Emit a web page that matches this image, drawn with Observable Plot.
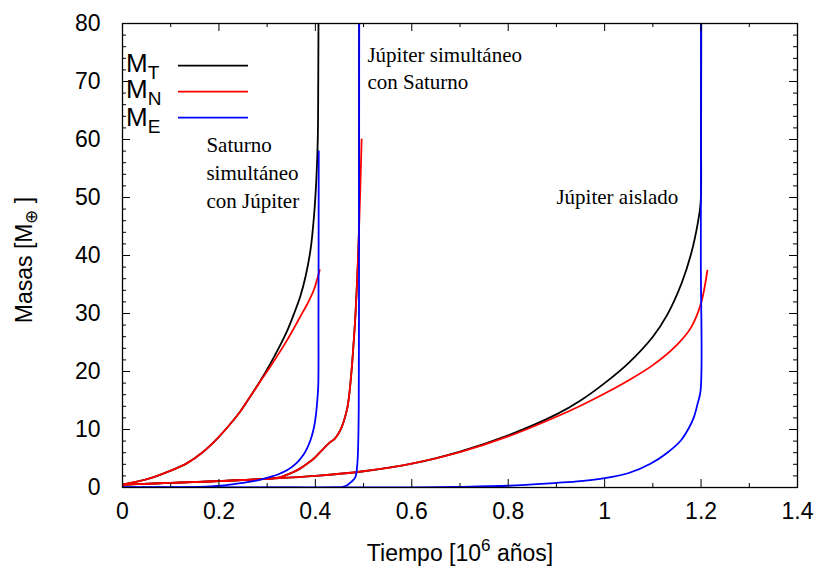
<!DOCTYPE html>
<html><head><meta charset="utf-8">
<script src="https://cdn.jsdelivr.net/npm/d3@7"></script>
<script src="https://cdn.jsdelivr.net/npm/@observablehq/plot@0.6"></script>
<style>body{margin:0;background:#fff} #wrap{width:822px;height:567px}</style>
</head><body><div id="wrap"></div><script>
// Axis ticks
const xTicks = [0, 0.2, 0.4, 0.6, 0.8, 1, 1.2, 1.4];
const xTickLabels = ["0", "0.2", "0.4", "0.6", "0.8", "1", "1.2", "1.4"];
const xMinor = [0.1, 0.3, 0.5, 0.7, 0.9, 1.1, 1.3];
const yTicks = [0, 10, 20, 30, 40, 50, 60, 70, 80];
const yMinor = [2,4,6,8,12,14,16,18,22,24,26,28,32,34,36,38,42,44,46,48,52,54,56,58,62,64,66,68,72,74,76,78];

// Saturno simultáneo con Júpiter
const satT_t = [0, 0.03, 0.065, 0.1, 0.134, 0.165, 0.196, 0.22, 0.245, 0.265, 0.286, 0.307, 0.325, 0.342, 0.355, 0.369, 0.38, 0.39, 0.397, 0.402, 0.405, 0.406, 0.407];
const satT_m = [0.5, 1.0, 1.8, 2.9, 4.2, 6.0, 8.4, 10.6, 13.2, 15.7, 18.4, 21.4, 24.2, 27.1, 29.8, 33.0, 36.5, 41, 46.6, 53, 60, 70, 95];
const satN_t = [0, 0.03, 0.065, 0.1, 0.134, 0.165, 0.196, 0.22, 0.245, 0.265, 0.286, 0.307, 0.328, 0.342, 0.355, 0.369, 0.383, 0.397, 0.409];
const satN_m = [0.5, 1.0, 1.8, 2.9, 4.2, 6.0, 8.4, 10.6, 13.2, 15.7, 18.3, 20.9, 23.6, 25.5, 27.4, 29.5, 31.6, 34.1, 37.5];
const satE_t = [0, 0.1, 0.16, 0.203, 0.231, 0.25, 0.272, 0.286, 0.305, 0.321, 0.342, 0.362, 0.375, 0.383, 0.39, 0.397, 0.401, 0.404, 0.406, 0.4065, 0.407];
const satE_m = [0, 0.02, 0.1, 0.3, 0.6, 0.8, 1.1, 1.35, 1.8, 2.2, 3.0, 4.3, 5.6, 6.8, 8.2, 10.3, 12.4, 15, 17.5, 30, 58];

// Júpiter simultáneo con Saturno
const jsT_t = [0, 0.1, 0.2, 0.27, 0.3, 0.328, 0.35, 0.369, 0.383, 0.397, 0.411, 0.418, 0.432, 0.44, 0.448, 0.455, 0.461, 0.466, 0.47, 0.473, 0.476, 0.479, 0.483, 0.487, 0.49, 0.4905, 0.491];
const jsT_m = [0.5, 0.8, 1.1, 1.35, 1.5, 1.8, 2.5, 3.3, 4.1, 5.0, 6.2, 6.8, 7.9, 8.4, 9.3, 10.5, 12.0, 13.6, 15.8, 18.2, 21.0, 24.5, 29.5, 36.5, 43, 60, 95];
const jsN_t = [0, 0.1, 0.2, 0.27, 0.3, 0.328, 0.35, 0.369, 0.383, 0.397, 0.411, 0.418, 0.432, 0.44, 0.448, 0.455, 0.461, 0.466, 0.47, 0.473, 0.476, 0.479, 0.483, 0.487, 0.49, 0.493, 0.496];
const jsN_m = [0.5, 0.8, 1.1, 1.35, 1.5, 1.8, 2.5, 3.3, 4.1, 5.0, 6.2, 6.8, 7.9, 8.4, 9.3, 10.5, 12.0, 13.6, 15.8, 18.2, 21.0, 24.5, 29.5, 36.5, 43, 51, 60];
const jsE_t = [0, 0.3, 0.44, 0.455, 0.466, 0.475, 0.483, 0.487, 0.489, 0.49, 0.4905, 0.491];
const jsE_m = [0, 0, 0.02, 0.08, 0.4, 1.0, 1.8, 4.0, 8, 14, 30, 95];

// Júpiter aislado
const jaT_t = [0, 0.1, 0.2, 0.3, 0.4, 0.5, 0.6, 0.7, 0.8, 0.9, 0.95, 1.0, 1.05, 1.1, 1.13, 1.16, 1.18, 1.193, 1.199, 1.2, 1.2005];
const jaT_m = [0.5, 0.8, 1.1, 1.5, 2.0, 2.8, 4.1, 6.2, 9.0, 12.6, 15.0, 18.0, 21.5, 26.0, 29.8, 35.3, 40.5, 45.5, 49, 60, 95];
const jaN_t = [0, 0.1, 0.2, 0.3, 0.4, 0.5, 0.6, 0.7, 0.8, 0.9, 0.95, 1.0, 1.05, 1.1, 1.15, 1.18, 1.2, 1.213];
const jaN_m = [0.5, 0.8, 1.1, 1.5, 2.0, 2.8, 4.1, 6.1, 8.8, 12.2, 14.1, 16.2, 18.5, 21.1, 24.6, 27.7, 31.8, 37.4];
const jaE_t = [0, 0.5, 0.6, 0.7, 0.8, 0.9, 0.95, 1.0, 1.05, 1.095, 1.13, 1.158, 1.175, 1.185, 1.193, 1.199, 1.1995, 1.2];
const jaE_m = [0, 0, 0.03, 0.1, 0.3, 0.8, 1.1, 1.6, 2.5, 4.1, 6.0, 8.1, 10.3, 12.1, 14.5, 16.7, 40, 95];

const rows = (t, m) => t.map((v, i) => ({t: v, m: m[i]}));
const black = "#000000", red = "#ff0000", blue = "#0000ff";
const lineOpts = (c) => ({x: "t", y: "m", stroke: c, strokeWidth: 1.8, curve: "catmull-rom", clip: true});

const FONT = "'Liberation Sans', Arial, Helvetica, sans-serif";
const SERIF = "'Liberation Serif', 'Times New Roman', serif";

const W = 822, H = 567, ML = 122, MR = 25, MT = 23, MB = 80;
const FW = W - ML - MR, FH = H - MT - MB; // frame size in pixels
const X0 = 0, X1 = 1.4, Y0 = 0, Y1 = 80;
// inward tick lengths: 8px major, 4px minor, expressed in each scale's units
const xu = (px) => px * (X1 - X0) / FW;
const yu = (px) => px * (Y1 - Y0) / FH;
const tickStyle = {stroke: "#000", strokeWidth: 1};

const plot = Plot.plot({
  width: W, height: H,
  marginLeft: ML, marginRight: MR, marginTop: MT, marginBottom: MB,
  style: {fontFamily: FONT, background: "#fff", color: "#000"},
  x: {domain: [X0, X1]},
  y: {domain: [Y0, Y1]},
  marks: [
    // tick labels
    Plot.axisX({ticks: xTicks, tickSize: 0, tickPadding: 15, fontSize: 23, label: null,
      tickFormat: d => xTickLabels[xTicks.indexOf(d)]}),
    Plot.axisY({ticks: yTicks, tickSize: 0, tickPadding: 22, fontSize: 23, label: null}),
    // curves
    Plot.line(rows(satT_t, satT_m), lineOpts(black)),
    Plot.line(rows(jsT_t, jsT_m), lineOpts(black)),
    Plot.line(rows(jaT_t, jaT_m), lineOpts(black)),
    Plot.line(rows(satN_t, satN_m), lineOpts(red)),
    Plot.line(rows(jsN_t, jsN_m), lineOpts(red)),
    Plot.line(rows(jaN_t, jaN_m), lineOpts(red)),
    Plot.line(rows(satE_t, satE_m), lineOpts(blue)),
    Plot.line(rows(jsE_t, jsE_m), lineOpts(blue)),
    Plot.line(rows(jaE_t, jaE_m), lineOpts(blue)),
    // inward ticks on all four sides
    Plot.ruleX(xTicks, {x: d => d, y1: Y0, y2: Y0 + yu(8), ...tickStyle}),
    Plot.ruleX(xMinor, {x: d => d, y1: Y0, y2: Y0 + yu(4), ...tickStyle}),
    Plot.ruleX(xTicks, {x: d => d, y1: Y1, y2: Y1 - yu(8), ...tickStyle}),
    Plot.ruleX(xMinor, {x: d => d, y1: Y1, y2: Y1 - yu(4), ...tickStyle}),
    Plot.ruleY(yTicks, {y: d => d, x1: X0, x2: X0 + xu(8), ...tickStyle}),
    Plot.ruleY(yMinor, {y: d => d, x1: X0, x2: X0 + xu(4), ...tickStyle}),
    Plot.ruleY(yTicks, {y: d => d, x1: X1, x2: X1 - xu(8), ...tickStyle}),
    Plot.ruleY(yMinor, {y: d => d, x1: X1, x2: X1 - xu(4), ...tickStyle}),
    Plot.frame({stroke: "#000", strokeWidth: 1.3}),
    // annotations
    Plot.text(["Júpiter simultáneo\ncon Saturno"], {x: 0.508, y: 76.7, text: d => d, textAnchor: "start", lineAnchor: "top", lineHeight: 1.3,
      fontFamily: SERIF, fontSize: 21, fill: "#000"}),
    Plot.text(["Saturno\nsimultáneo\ncon Júpiter"], {x: 0.174, y: 61.3, text: d => d, textAnchor: "start", lineAnchor: "top", lineHeight: 1.33,
      fontFamily: SERIF, fontSize: 21, fill: "#000"}),
    Plot.text(["Júpiter aislado"], {x: 0.9, y: 51.4, text: d => d, textAnchor: "start", lineAnchor: "top",
      fontFamily: SERIF, fontSize: 21, fill: "#000"})
  ]
});

const svg = d3.select(plot);
// Axis titles
const yl = svg.append("text").attr("transform", "translate(32,260) rotate(-90)")
  .attr("text-anchor", "middle").attr("font-size", 23).attr("font-family", FONT).attr("fill", "#000");
yl.append("tspan").text("Masas [M");
yl.append("tspan").attr("font-size", 17).attr("dy", 5).text("⊕");
yl.append("tspan").attr("dy", -5).text(" ]");
const xl = svg.append("text").attr("x", 460).attr("y", 561)
  .attr("text-anchor", "middle").attr("font-size", 23).attr("font-family", FONT).attr("fill", "#000");
xl.append("tspan").text("Tiempo [10");
xl.append("tspan").attr("font-size", 17).attr("dy", -10).text("6");
xl.append("tspan").attr("dy", 10).text(" años]");

// Legend
const legendItems = [{s: "T", c: black, y: 72, ly: 65.7}, {s: "N", c: red, y: 98, ly: 91.7}, {s: "E", c: blue, y: 126, ly: 117.7}];
for (const it of legendItems) {
  const t = svg.append("text").attr("x", 126).attr("y", it.y).attr("text-anchor", "start")
    .attr("font-size", 26).attr("font-family", FONT).attr("fill", "#000");
  t.append("tspan").text("M");
  t.append("tspan").attr("font-size", 19).attr("dy", 7).text(it.s);
  svg.append("line").attr("x1", 178).attr("x2", 248).attr("y1", it.ly).attr("y2", it.ly)
    .attr("stroke", it.c).attr("stroke-width", 1.8);
}

document.getElementById("wrap").appendChild(plot);
</script></body></html>
